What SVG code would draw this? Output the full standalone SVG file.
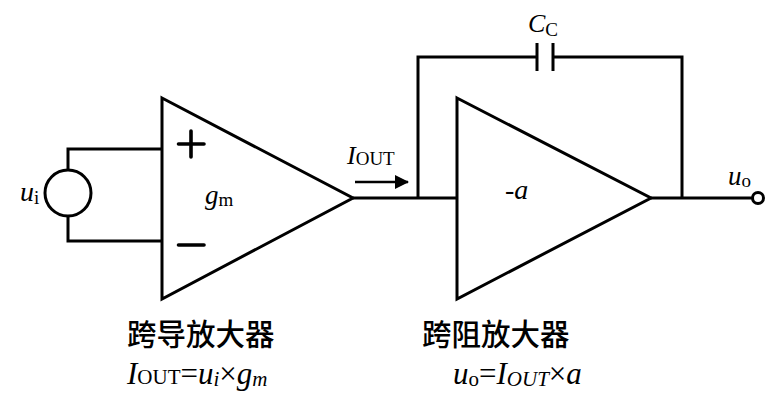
<svg xmlns="http://www.w3.org/2000/svg" width="774" height="412" viewBox="0 0 774 412">
<style>
.w{fill:none;stroke:#000;stroke-width:3;stroke-linejoin:miter;stroke-linecap:butt}
.pm{fill:none;stroke:#000;stroke-width:3.6;stroke-linecap:round}
.t{font-family:"Liberation Serif","Times New Roman",serif;fill:#000}
.i{font-style:italic}
.cn{font-family:"Noto Sans CJK SC","Noto Sans CJK TC",sans-serif;font-size:29.5px;font-weight:500;fill:#000}
</style>
<defs>
<marker id="ah" markerWidth="14" markerHeight="14" refX="13" refY="7" orient="auto" markerUnits="userSpaceOnUse">
<path d="M0,0 L14,7 L0,14 Z" fill="#000"/>
</marker>
</defs>
<rect width="774" height="412" fill="#fff"/>
<g id="connectors">
<path class="w" d="M68,170 V149 H162"/>
<path class="w" d="M68,216 V241 H162"/>
<path class="w" d="M353,198 H457"/>
<path class="w" d="M418,198 V57 H537"/>
<path class="w" d="M553,57 H682 V198"/>
<path class="w" d="M651,198 H753"/>
<line x1="355" y1="182" x2="408" y2="182" stroke="#000" stroke-width="2.5" marker-end="url(#ah)"/>
</g>
<g id="source">
<circle class="w" cx="68" cy="193" r="23"/>
<text class="t" x="20" y="201" font-size="28"><tspan class="i">u</tspan><tspan font-size="19" dy="3">i</tspan></text>
</g>
<g id="amp1">
<path class="w" d="M162,98 L353,198 L162,299 Z"/>
<path class="pm" d="M178.5,144 H204 M191,131 V157"/>
<path class="pm" d="M178.5,245 H204"/>
<text class="t" x="205" y="204" font-size="27"><tspan class="i">g</tspan><tspan font-size="19" dy="2">m</tspan></text>
</g>
<g id="amp2">
<path class="w" d="M457,98 L651,198 L457,299 Z"/>
<text class="t i" x="505" y="199" font-size="28">-a</text>
</g>
<g id="capacitor">
<path class="w" d="M537,43 V71 M553,43 V71"/>
<text class="t" x="528" y="32" font-size="26"><tspan class="i">C</tspan><tspan font-size="19" dy="4">C</tspan></text>
</g>
<g id="current-label">
<text class="t" x="347" y="164" font-size="26"><tspan class="i">I</tspan><tspan font-size="19" dy="1">OUT</tspan></text>
</g>
<g id="output">
<circle cx="758" cy="198" r="5.5" fill="#fff" stroke="#000" stroke-width="3"/>
<text class="t" x="728" y="185" font-size="27"><tspan class="i">u</tspan><tspan font-size="19" dy="2">o</tspan></text>
</g>
<g id="labels">
<text class="cn" x="127" y="345">跨导放大器</text>
<text class="t" x="127" y="384" font-size="31"><tspan class="i">I</tspan><tspan font-size="21">OUT</tspan><tspan>=</tspan><tspan class="i">u</tspan><tspan class="i" font-size="21" dy="2">i</tspan><tspan dy="-2">×</tspan><tspan class="i">g</tspan><tspan class="i" font-size="21" dy="2">m</tspan></text>
<text class="cn" x="422" y="345">跨阻放大器</text>
<text class="t" x="453" y="384" font-size="31"><tspan class="i">u</tspan><tspan font-size="21" dy="2">o</tspan><tspan dy="-2">=</tspan><tspan class="i">I</tspan><tspan class="i" font-size="21" dy="2">OUT</tspan><tspan dy="-2">×</tspan><tspan class="i">a</tspan></text>
</g>
</svg>
